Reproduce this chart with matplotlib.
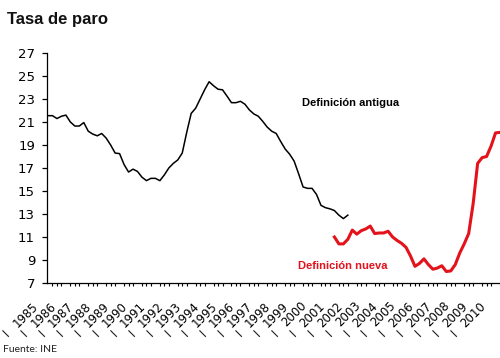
import matplotlib
matplotlib.use("Agg")
import matplotlib.pyplot as plt
import matplotlib.transforms as mtransforms

# Quarterly unemployment rate (%), index 0 = 1985 Q1
years = list(range(1985, 2011))
quarter_marks = ["I"] * len(years)

old_def = [
    21.55, 21.55, 21.3, 21.5, 21.6, 21.0, 20.65, 20.65,
    20.95, 20.2, 19.95, 19.8, 20.0, 19.6, 19.0, 18.3,
    18.25, 17.3, 16.65, 16.9, 16.7, 16.2, 15.9, 16.1,
    16.1, 15.9, 16.4, 17.0, 17.4, 17.7, 18.3, 20.1,
    21.75, 22.2, 23.0, 23.8, 24.5, 24.15, 23.85, 23.8,
    23.25, 22.68, 22.68, 22.8, 22.55, 22.05, 21.7, 21.5,
    21.05, 20.55, 20.2, 20.0, 19.3, 18.65, 18.2, 17.6,
    16.5, 15.35, 15.23, 15.23, 14.7, 13.75, 13.55, 13.45,
    13.3, 12.9, 12.6, 12.9,
]

new_def_start = 64  # 2001 Q1
new_def = [
    11.0, 10.4, 10.4, 10.8, 11.6, 11.25, 11.55, 11.7,
    11.95, 11.3, 11.35, 11.35, 11.5, 11.0, 10.7, 10.45,
    10.1, 9.35, 8.45, 8.7, 9.1, 8.6, 8.2, 8.3,
    8.5, 8.0, 8.05, 8.6, 9.6, 10.4, 11.3, 13.9,
    17.4, 17.9, 18.0, 18.9, 20.05, 20.1,
]

RED = "#E3121B"

fig = plt.figure(figsize=(5.0, 3.58), dpi=100)
ax = fig.add_axes([47 / 500, 75 / 358, 453 / 500, 230 / 358])

x_old = list(range(len(old_def)))
x_new = list(range(new_def_start, new_def_start + len(new_def)))
ax.plot(x_old, old_def, color="black", lw=1.1, clip_on=False)
ax.plot(x_new, new_def, color=RED, lw=2.2, solid_joinstyle="round")

ax.set_xlim(-0.22, 100.96)
ax.set_ylim(7, 27)

for side in ["top", "right"]:
    ax.spines[side].set_visible(False)
for side in ["left", "bottom"]:
    ax.spines[side].set_linewidth(0.9)

# y axis
ax.set_yticks(range(7, 28, 2))
ax.tick_params(axis="y", direction="out", length=3.6, width=0.9, pad=5,
               labelsize=9.5)

# x axis: a tick every quarter, a label every year
ax.set_xticks(range(0, 102), minor=True)
year_pos = [4 * (y - 1985) for y in years]
ax.set_xticks(year_pos)
ax.set_xticklabels([str(y) for y in years], rotation=45, ha="right",
                   va="center", rotation_mode="anchor",
                   fontsize=8.5, family="DejaVu Sans")
ax.tick_params(axis="x", which="major", length=0, pad=0)
ax.tick_params(axis="x", which="minor", direction="out", length=2.4,
               width=0.8)

shift = mtransforms.ScaledTranslation(-12 / 100, -21 / 100, fig.dpi_scale_trans)
for lab in ax.get_xticklabels():
    lab.set_transform(lab.get_transform() + shift)

base = mtransforms.blended_transform_factory(ax.transData, ax.transAxes)
q_shift = mtransforms.ScaledTranslation(-41 / 100, -50 / 100, fig.dpi_scale_trans)
for pos, q in zip(year_pos, quarter_marks):
    ax.text(pos, 0, q, transform=base + q_shift, rotation=45,
            rotation_mode="anchor", ha="center", va="center",
            fontsize=8.5, family="DejaVu Sans", clip_on=False)

# labels on the series
ax.text(67.5, 22.65, "Definición antigua", ha="center", va="center",
        fontsize=8, fontweight="bold", family="Liberation Sans",
        color="black")
ax.text(65.9, 8.48, "Definición nueva", ha="center", va="center",
        fontsize=8, fontweight="bold", family="Liberation Sans",
        color=RED)

fig.text(7 / 500, 1 - 12 / 358, "Tasa de paro", ha="left", va="top",
         fontsize=12, fontweight="bold", family="Liberation Sans",
         color="#111111")
fig.text(3 / 500, 4 / 358, "Fuente: INE", ha="left", va="bottom",
         fontsize=7.5, family="Lato", color="#222222")

fig.savefig("out.png", dpi=100)
